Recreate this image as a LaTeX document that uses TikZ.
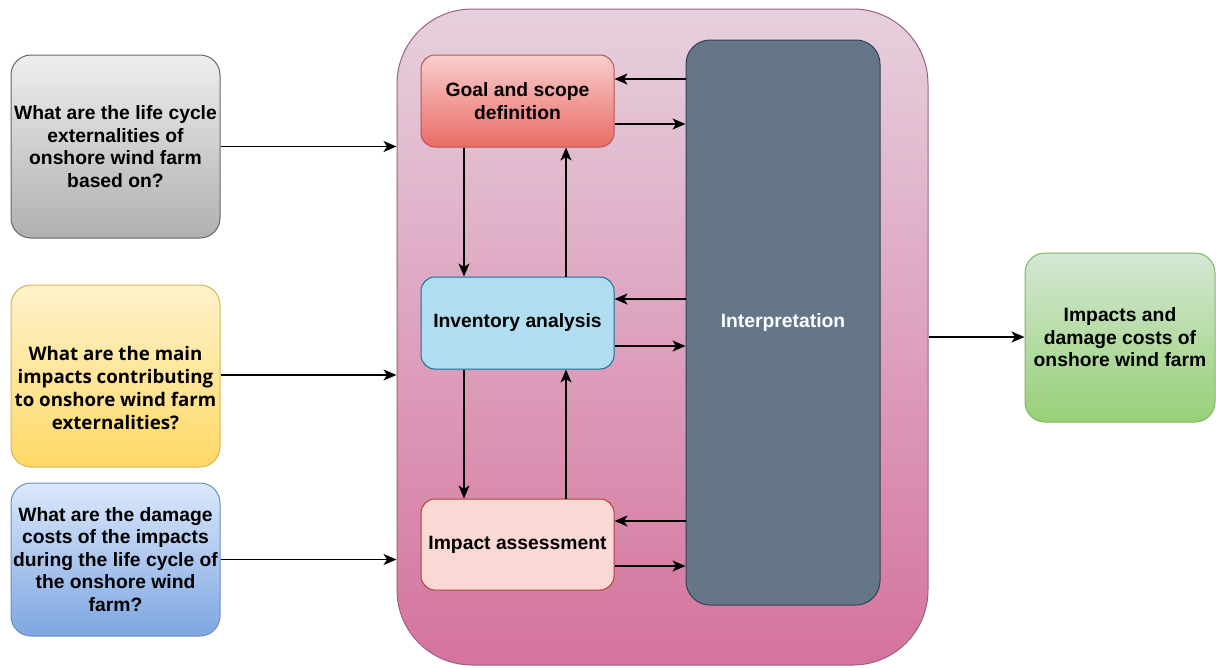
\documentclass[tikz,border=0pt]{standalone}
\usepackage{fontspec}
\setmainfont{Liberation Sans}
\newfontfamily\segoe{Open Sans}
\usetikzlibrary{arrows.meta}

\definecolor{grayTop}{HTML}{EEEEEE}
\definecolor{grayBot}{HTML}{B0B0B0}
\definecolor{grayLine}{HTML}{666666}
\definecolor{ylwTop}{HTML}{FFF2CC}
\definecolor{ylwBot}{HTML}{FFD966}
\definecolor{ylwLine}{HTML}{D6B656}
\definecolor{bluTop}{HTML}{DAE8FC}
\definecolor{bluBot}{HTML}{7EA6E0}
\definecolor{bluLine}{HTML}{6C8EBF}
\definecolor{grnTop}{HTML}{D5E8D4}
\definecolor{grnBot}{HTML}{97D077}
\definecolor{grnLine}{HTML}{82B366}
\definecolor{redTop}{HTML}{F8CECC}
\definecolor{redBot}{HTML}{EA6B66}
\definecolor{redLine}{HTML}{B85450}
\definecolor{invFill}{HTML}{B1DDF0}
\definecolor{invLine}{HTML}{10739E}
\definecolor{impFill}{HTML}{FAD9D5}
\definecolor{impLine}{HTML}{AE4132}
\definecolor{intFill}{HTML}{647687}
\definecolor{intLine}{HTML}{314354}
\definecolor{pnkTop}{HTML}{E6D0DE}
\definecolor{pnkBot}{HTML}{D5739D}
\definecolor{pnkLine}{HTML}{996185}

\begin{document}
\begin{tikzpicture}[x=1pt,y=-1pt,
  box/.style={draw, line width=1pt, align=center, inner sep=0pt,
    font=\bfseries\fontsize{19.3}{22.5}\selectfont},
  question/.style={box, rounded corners=20pt, minimum width=209pt},
  stage/.style={box, rounded corners=14pt, minimum width=193pt},
  arr/.style={line width=1.4pt, -{Stealth[length=13pt,width=11pt,inset=3.5pt]}}
]
\useasboundingbox (0,0) rectangle (1216,667);

% LCA frame
\node[box, rounded corners=75pt, minimum width=531pt, minimum height=656pt,
  top color=pnkTop, bottom color=pnkBot, draw=pnkLine] (cont) at (662.5,337) {};

% research questions
\node[question, minimum height=183pt, top color=grayTop, bottom color=grayBot,
  draw=grayLine] (gray) at (115.5,146.5)
  {What are the life cycle\\externalities of\\onshore wind farm\\based on?};
\node[question, minimum height=182pt, top color=ylwTop, bottom color=ylwBot,
  draw=ylwLine] (ylw) at (115.5,376) {};
\node[align=center, inner sep=0pt, font=\segoe\bfseries\fontsize{18.7}{22.8}\selectfont]
  (ylwtxt) at ([yshift=-12pt]ylw.center)
  {What are the main\\impacts contributing\\to onshore wind farm\\externalities?};
\node[question, minimum height=153pt, top color=bluTop, bottom color=bluBot,
  draw=bluLine] (blu) at (115.5,559.5)
  {What are the damage\\costs of the impacts\\during the life cycle of\\the onshore wind\\farm?};

% result
\node[box, rounded corners=20pt, minimum width=190pt, minimum height=169pt,
  top color=grnTop, bottom color=grnBot, draw=grnLine] (grn) at (1120,337.5)
  {Impacts and\\damage costs of\\onshore wind farm};

% LCA stages
\node[stage, minimum height=92pt, top color=redTop, bottom color=redBot,
  draw=redLine] (goal) at (517.5,101) {Goal and scope\\definition};
\node[stage, minimum height=92pt, fill=invFill, draw=invLine] (inv) at (517.5,323)
  {Inventory analysis};
\node[stage, minimum height=91pt, fill=impFill, draw=impLine] (imp) at (517.5,544.5)
  {Impact assessment};
\node[box, rounded corners=24pt, minimum width=194pt, minimum height=565pt,
  fill=intFill, draw=intLine, text=white] (interp) at (783,322.5) {Interpretation};

% inputs and output
\draw[arr] (gray.east) -- (gray.east -| cont.west);
\draw[arr] ([yshift=1pt]ylw.east) -- ([yshift=1pt]ylw.east -| cont.west);
\draw[arr] (blu.east) -- (blu.east -| cont.west);
\draw[arr] (cont.east) -- (cont.east -| grn.west);

% stage sequence
\draw[arr] ([xshift=-53.5pt]goal.south) -- ([xshift=-53.5pt]inv.north);
\draw[arr] ([xshift=48.5pt]inv.north) -- ([xshift=48.5pt]goal.south);
\draw[arr] ([xshift=-53.5pt]inv.south) -- ([xshift=-53.5pt]imp.north);
\draw[arr] ([xshift=48.5pt]imp.north) -- ([xshift=48.5pt]inv.south);

% exchanges with interpretation
\draw[arr] ([yshift=22pt]goal.east -| interp.west) -- ([yshift=22pt]goal.east);
\draw[arr] ([yshift=-23pt]goal.east) -- ([yshift=-23pt]goal.east -| interp.west);
\draw[arr] ([yshift=24pt]inv.east -| interp.west) -- ([yshift=24pt]inv.east);
\draw[arr] ([yshift=-23pt]inv.east) -- ([yshift=-23pt]inv.east -| interp.west);
\draw[arr] ([yshift=23.5pt]imp.east -| interp.west) -- ([yshift=23.5pt]imp.east);
\draw[arr] ([yshift=-21.5pt]imp.east) -- ([yshift=-21.5pt]imp.east -| interp.west);
\end{tikzpicture}
\end{document}
